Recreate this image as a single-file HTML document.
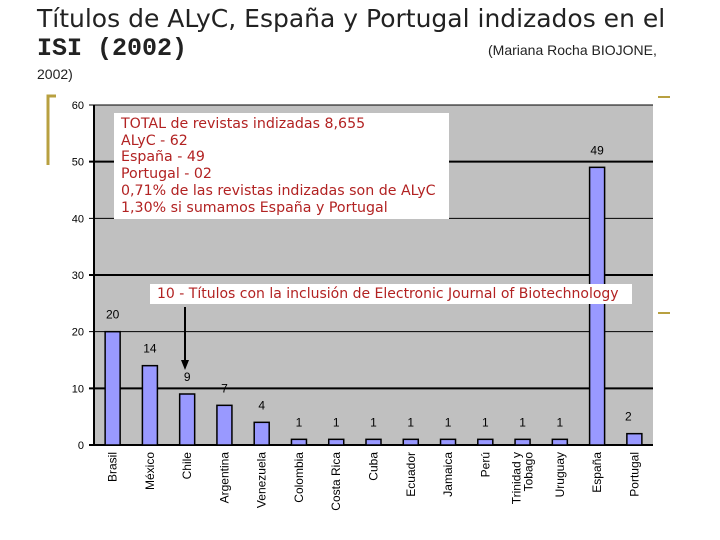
<!DOCTYPE html>
<html><head><meta charset="utf-8"><style>
body{margin:0;background:#fff;width:720px;height:540px;overflow:hidden;position:relative;font-family:"DejaVu Sans","Liberation Sans",sans-serif}
.t{position:absolute;color:#222}
</style></head><body>
<div class="t" style="left:37px;top:4px;font-size:25px;white-space:nowrap">Títulos de ALyC, España y Portugal indizados en el</div>
<div class="t" style="left:37px;top:34px;font-size:25px;font-weight:bold;font-family:'Liberation Mono',monospace">ISI (2002)</div>
<div class="t" style="left:488px;top:42px;font-size:14px;font-family:'Liberation Sans',sans-serif">(Mariana Rocha BIOJONE,</div>
<div class="t" style="left:37px;top:66px;font-size:14px;font-family:'Liberation Sans',sans-serif">2002)</div>
<svg id="c" width="720" height="540" style="position:absolute;left:0;top:0"></svg>
<script>
const categories=["Brasil","México","Chile","Argentina","Venezuela","Colombia","Costa Rica","Cuba","Ecuador","Jamaica","Perú","Trinidad y|Tobago","Uruguay","España","Portugal"];
const values=[20,14,9,7,4,1,1,1,1,1,1,1,1,49,2];
const ticks=[0,10,20,30,40,50,60];
const NS="http://www.w3.org/2000/svg";
const svg=document.getElementById('c');
const L=94,R=653,T=105,B=445,maxV=60;
const y=v=>B-(v/maxV)*(B-T);
const step=(R-L)/categories.length;
const x=i=>L+step*(i+0.5);
function mk(tag,a,p){const e=document.createElementNS(NS,tag);for(const k in a)e.setAttribute(k,a[k]);(p||svg).appendChild(e);return e;}
mk('path',{d:'M48 165 V96 H56',stroke:'#b8a040','stroke-width':3,fill:'none'});
mk('line',{x1:658,y1:97,x2:670,y2:97,stroke:'#b8a040','stroke-width':2});
mk('line',{x1:658,y1:313,x2:670,y2:313,stroke:'#b8a040','stroke-width':2});
const bg=mk('rect',{x:L,y:T,width:R-L,height:B-T,fill:'#c0c0c0'});

ticks.forEach(t=>{
  const g=mk('line',{x1:L-5,y1:y(t),x2:R,y2:y(t),stroke:'#000','stroke-width':(t%20==0&&t>0)?1:2});
  
  const tx=mk('text',{x:L-10,y:y(t)+4,'text-anchor':'end','font-size':11,'font-family':'Liberation Sans'});
  tx.textContent=t;
  
});
mk('line',{x1:L,y1:T,x2:L,y2:B,stroke:'#000','stroke-width':2});
values.forEach((v,i)=>{
  const bw=15;
  const r=mk('rect',{x:x(i)-bw/2,y:y(v),width:bw,height:B-y(v),fill:'#9999ff',stroke:'#000','stroke-width':1.5});
  
  
  const lbl=mk('text',{x:x(i)-(i==14?6:0),y:y(v)-13,'text-anchor':'middle','font-size':12,'font-family':'Liberation Sans'});
  lbl.textContent=v;
  
  const parts=categories[i].split('|');
  const g=mk('g',{transform:`translate(${x(i)},452) rotate(-90)`});
  parts.forEach((p,j)=>{
    const t=mk('text',{x:0,y:4+(j-(parts.length-1)/2)*12,'text-anchor':'end','font-size':12,'font-family':'Liberation Sans'},g);
    t.textContent=p;
  });
  
});
mk('line',{x1:185,y1:307,x2:185,y2:362,stroke:'#000','stroke-width':2});
mk('path',{d:'M181 360 L189 360 L185 370 Z',fill:'#000'});
</script>
<div style="position:absolute;left:114px;top:113px;width:335px;height:106px;background:#fff;color:#b22222;font-size:14.2px;line-height:16.7px;padding:3px 0 0 7px;box-sizing:border-box;white-space:nowrap">TOTAL de revistas indizadas 8,655<br>ALyC - 62<br>España - 49<br>Portugal - 02<br>0,71% de las revistas indizadas son de ALyC<br>1,30% si sumamos España y Portugal</div>
<div style="position:absolute;left:150px;top:284px;width:482px;height:20px;background:#fff;color:#b22222;font-size:14px;line-height:20px;padding-left:7px;box-sizing:border-box;white-space:nowrap">10 - Títulos con la inclusión de Electronic Journal of Biotechnology</div>
</body></html>
